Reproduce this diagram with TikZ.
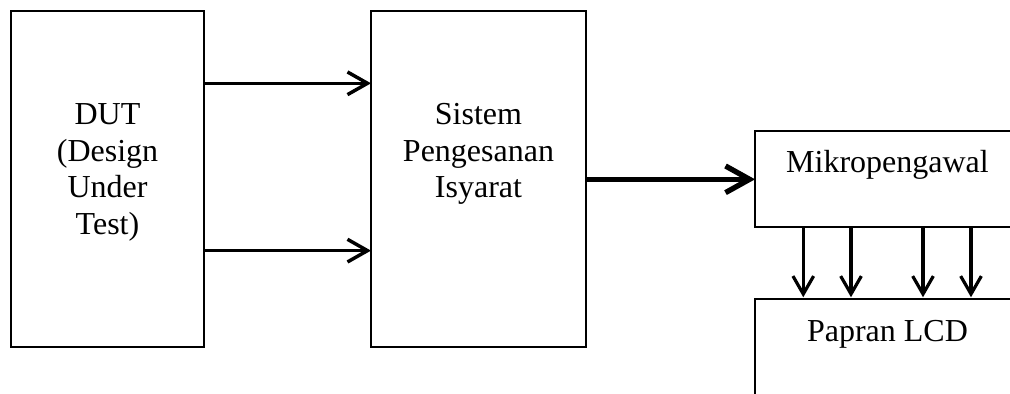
\documentclass[tikz,border=0pt]{standalone}
\usepackage{fontspec}
\setmainfont{Liberation Serif}
\usetikzlibrary{arrows.meta}

\begin{document}
\begin{tikzpicture}[x=0.75pt, y=-0.75pt,
  blockbox/.style={draw, line width=1.5pt, inner sep=0pt, outer sep=0pt},
  label/.style={font=\fontsize{24}{27.6}\selectfont, align=center, inner sep=0pt},
  sigarrow/.style={line width=2.6pt, -{Straight Barb[length=15pt, width=17pt]}},
  busarrow/.style={line width=4pt, -{Straight Barb[length=18pt, width=20pt]}},
  lcdarrow/.style={line width=2.4pt, -{Straight Barb[length=13.5pt, width=15.5pt]}}
]
  % page frame; blocks on the right run past the edge
  \useasboundingbox (0,0) rectangle (1010,393);
  \clip (0,0) rectangle (1010,393);

  % blocks
  \node[blockbox, minimum width=144.75pt, minimum height=252pt] (dut) at (107.5,179.3) {};
  \node[blockbox, minimum width=161.25pt, minimum height=252pt] (sig) at (478.5,179.3) {};
  \node[blockbox, minimum width=206.25pt, minimum height=72pt] (mcu) at (892.5,179.3) {};
  \node[blockbox, minimum width=206.25pt, minimum height=83pt] (lcd) at (892.5,354.6) {};

  % block captions
  \node[label] (dutlbl) at (107.5,172.5) {DUT\\(Design\\Under\\Test)};
  \node[label] (siglbl) at (478.5,154) {Sistem\\Pengesanan\\Isyarat};
  \node[label, anchor=base] (mculbl) at (887.5,172) {Mikropengawal};
  \node[label, anchor=base] (lcdlbl) at (887.5,341) {Papran LCD};

  % DUT outputs into the signal conditioning block
  \draw[sigarrow] ([yshift=72pt]dut.east) -- ([yshift=72pt]sig.west);
  \draw[sigarrow] ([yshift=-53.5pt]dut.east) -- ([yshift=-53.5pt]sig.west);

  % conditioned signal into the microcontroller
  \draw[busarrow] (sig.east) -- (mcu.west);

  % microcontroller to LCD lines
  \foreach \dx in {36.2pt, 72pt, 126pt, 162pt}
    \draw[lcdarrow] ([xshift=\dx]mcu.south west) -- ([xshift=\dx, yshift=1.5pt]lcd.north west);
\end{tikzpicture}
\end{document}
